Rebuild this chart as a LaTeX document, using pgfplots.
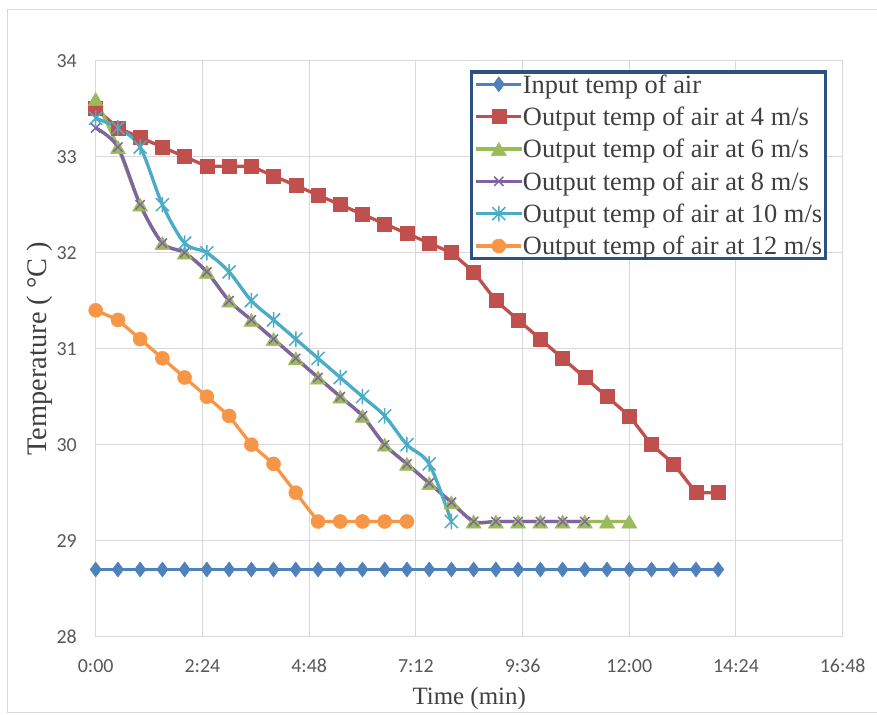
\documentclass[border=0pt]{standalone}
\usepackage{pgfplots}
\pgfplotsset{compat=1.18}
\usepackage{fontspec}
\setmainfont{Liberation Serif}
\newfontfamily\carlito{Carlito}
\definecolor{cblue}{HTML}{4F81BD}
\definecolor{cred}{HTML}{C0504D}
\definecolor{cgreen}{HTML}{9BBB59}
\definecolor{cpurple}{HTML}{8064A2}
\definecolor{ccyan}{HTML}{4BACC6}
\definecolor{corange}{HTML}{F79646}
\definecolor{gridgray}{HTML}{D9D9D9}
\definecolor{ticktext}{HTML}{595959}
\definecolor{titletext}{HTML}{404040}
\definecolor{legborder}{RGB}{44,82,130}
\pgfdeclareplotmark{xstar}{%
  \pgfpathmoveto{\pgfqpoint{-\pgfplotmarksize}{-\pgfplotmarksize}}%
  \pgfpathlineto{\pgfqpoint{\pgfplotmarksize}{\pgfplotmarksize}}%
  \pgfpathmoveto{\pgfqpoint{-\pgfplotmarksize}{\pgfplotmarksize}}%
  \pgfpathlineto{\pgfqpoint{\pgfplotmarksize}{-\pgfplotmarksize}}%
  \pgfpathmoveto{\pgfqpoint{0pt}{-1.2\pgfplotmarksize}}%
  \pgfpathlineto{\pgfqpoint{0pt}{1.2\pgfplotmarksize}}%
  \pgfusepathqstroke}
\pgfdeclareplotmark{ctri}{%
  \pgfpathmoveto{\pgfqpoint{0pt}{0.87\pgfplotmarksize}}%
  \pgfpathlineto{\pgfqpoint{\pgfplotmarksize}{-0.87\pgfplotmarksize}}%
  \pgfpathlineto{\pgfqpoint{-\pgfplotmarksize}{-0.87\pgfplotmarksize}}%
  \pgfpathclose
  \pgfusepathqfillstroke}
\begin{document}
\begin{tikzpicture}
\useasboundingbox (0,0) rectangle (877bp,715bp);
\fill[white] (0,0) rectangle (877bp,715bp);
\draw[gridgray, line width=1bp] (7.5bp,2.5bp) rectangle (885bp,705.5bp);
\begin{axis}[
  at={(95.7bp,78.3bp)}, anchor=south west,
  scale only axis, width=747bp, height=576bp,
  xmin=0, xmax=16.8, ymin=28, ymax=34,
  xtick={0,2.4,4.8,7.2,9.6,12,14.4,16.8},
  xticklabels={0:00,2:24,4:48,7:12,9:36,12:00,14:24,16:48},
  ytick={28,29,30,31,32,33,34},
  /pgf/number format/assume math mode=true,
  grid=major,
  grid style={draw=gridgray, line width=1bp},
  axis line style={draw=gridgray, line width=1bp},
  major tick length=0pt,
  tick label style={font=\carlito\fontsize{20}{24}\selectfont, text=ticktext},
  yticklabel style={anchor=east, inner sep=0pt, xshift=-18.7bp},
  xticklabel style={anchor=base, inner sep=0pt, yshift=-35.3bp},
  xlabel={Time (min)},
  ylabel={Temperature ( °C )},
  xlabel style={at={([yshift=-67.3bp]axis description cs:0.5,0)}, anchor=base, inner sep=0pt, font=\fontsize{25}{30}\selectfont, text=titletext},
  ylabel style={at={([xshift=-49.7bp]axis description cs:0,0.5)}, anchor=base, inner sep=0pt, font=\fontsize{28.5}{32}\selectfont, text=titletext},
  clip=false,
  legend cell align=left,
  legend style={at={(axis description cs:0.5004,0.983)}, anchor=north west,
    draw=legborder, line width=3.3bp, fill=white,
    font=\fontsize{26.5}{32}\selectfont, text=titletext,
    inner xsep=3.5bp, inner ysep=-4bp, row sep=0pt, column sep=0pt,
    nodes={inner sep=0pt, text height=24.97bp, text depth=7.37bp}},
  legend image code/.code={\draw[mark repeat=2,mark phase=2] plot coordinates {(0bp,0bp) (22.5bp,0bp) (45bp,0bp)};},
  every axis plot/.append style={line width=3.3bp},
]
\addplot[color=cblue, mark=diamond*, mark size=7.5bp, mark options={line width=0.5bp}] coordinates {
(0,28.7)(0.5,28.7)(1,28.7)(1.5,28.7)(2,28.7)(2.5,28.7)(3,28.7)(3.5,28.7)(4,28.7)(4.5,28.7)
(5,28.7)(5.5,28.7)(6,28.7)(6.5,28.7)(7,28.7)(7.5,28.7)(8,28.7)(8.5,28.7)(9,28.7)(9.5,28.7)
(10,28.7)(10.5,28.7)(11,28.7)(11.5,28.7)(12,28.7)(12.5,28.7)(13,28.7)(13.5,28.7)(14,28.7)};
\addlegendentry{Input temp of air}
\addplot[color=cred, mark=square*, mark size=7bp, mark options={line width=0.5bp}] coordinates {
(0,33.5)(0.5,33.3)(1,33.2)(1.5,33.1)(2,33.0)(2.5,32.9)(3,32.9)(3.5,32.9)(4,32.8)(4.5,32.7)
(5,32.6)(5.5,32.5)(6,32.4)(6.5,32.3)(7,32.2)(7.5,32.1)(8,32.0)(8.5,31.8)(9,31.5)(9.5,31.3)
(10,31.1)(10.5,30.9)(11,30.7)(11.5,30.5)(12,30.3)(12.5,30.0)(13,29.8)(13.5,29.5)(14,29.5)};
\addlegendentry{Output temp of air at 4 m/s}
\addplot[color=cgreen, smooth, mark=ctri, mark size=7.5bp, mark options={line width=0.5bp}] coordinates {
(0,33.6)(0.5,33.1)(1,32.5)(1.5,32.1)(2,32.0)(2.5,31.8)(3,31.5)(3.5,31.3)(4,31.1)(4.5,30.9)
(5,30.7)(5.5,30.5)(6,30.3)(6.5,30.0)(7,29.8)(7.5,29.6)(8,29.4)(8.5,29.2)(9,29.2)(9.5,29.2)
(10,29.2)(10.5,29.2)(11,29.2)(11.5,29.2)(12,29.2)};
\addlegendentry{Output temp of air at 6 m/s}
\addplot[color=cpurple, smooth, mark=x, mark size=6.5bp, mark options={line width=1.5bp}] coordinates {
(0,33.3)(0.5,33.1)(1,32.5)(1.5,32.1)(2,32.0)(2.5,31.8)(3,31.5)(3.5,31.3)(4,31.1)(4.5,30.9)
(5,30.7)(5.5,30.5)(6,30.3)(6.5,30.0)(7,29.8)(7.5,29.6)(8,29.4)(8.5,29.2)(9,29.2)(9.5,29.2)
(10,29.2)(10.5,29.2)(11,29.2)};
\addlegendentry{Output temp of air at 8 m/s}
\addplot[color=ccyan, smooth, mark=xstar, mark size=6.5bp, mark options={line width=1.5bp}] coordinates {
(0,33.4)(0.5,33.3)(1,33.1)(1.5,32.5)(2,32.1)(2.5,32.0)(3,31.8)(3.5,31.5)(4,31.3)(4.5,31.1)
(5,30.9)(5.5,30.7)(6,30.5)(6.5,30.3)(7,30.0)(7.5,29.8)(8,29.2)};
\addlegendentry{Output temp of air at 10 m/s}
\addplot[color=corange, mark=*, mark size=7bp, mark options={line width=0.5bp}] coordinates {
(0,31.4)(0.5,31.3)(1,31.1)(1.5,30.9)(2,30.7)(2.5,30.5)(3,30.3)(3.5,30.0)(4,29.8)(4.5,29.5)
(5,29.2)(5.5,29.2)(6,29.2)(6.5,29.2)(7,29.2)};
\addlegendentry{Output temp of air at 12 m/s}
\end{axis}
\end{tikzpicture}
\end{document}
